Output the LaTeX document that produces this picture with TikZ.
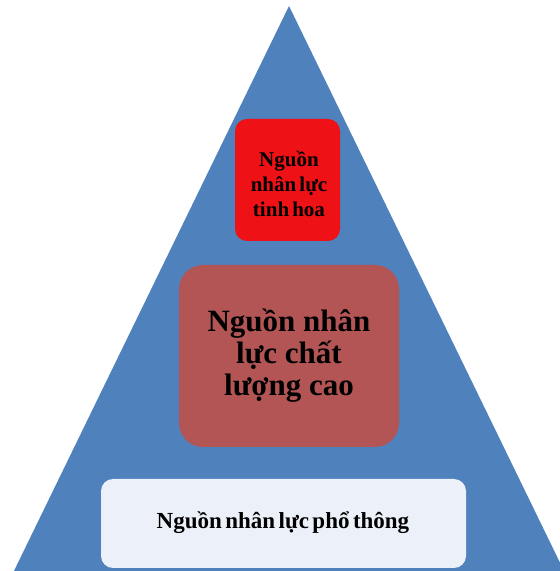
\documentclass[tikz,border=0pt]{standalone}
\usepackage{fontspec}
\setmainfont{Liberation Serif}
\definecolor{triblue}{RGB}{79,129,189}
\definecolor{topred}{RGB}{238,17,22}
\definecolor{midred}{RGB}{180,85,85}
\definecolor{lowbox}{RGB}{236,241,249}
\newcommand\tightspacing{\spaceskip=0.15em\relax}
\tikzset{
  box/.style={draw=none, align=center, inner sep=0pt, font=\bfseries},
}
\begin{document}
\begin{tikzpicture}[x=1pt,y=1pt]
\useasboundingbox (0,0) rectangle (560,571);
\begin{scope}
\clip (0,0) rectangle (560,571);
\fill[triblue] (289,565) -- (566,-4) -- (12,-4) -- cycle;
\end{scope}
% top box
\fill[topred, rounded corners=12pt] (235,330) rectangle (340,452);
\node[box, font=\bfseries\fontsize{21}{25}\selectfont\tightspacing] (top) at (289,387) {Nguồn\\nhân lực\\tinh hoa};
% middle box
\fill[midred, rounded corners=24pt] (179,124) rectangle (399,306);
\node[box, font=\bfseries\fontsize{31}{32}\selectfont] (mid) at (289,215) {Nguồn nhân\\lực chất\\lượng cao};
% bottom box
\fill[lowbox, rounded corners=12pt] (101,3) rectangle (466,92);
\node[box, font=\bfseries\fontsize{23}{24}\selectfont\tightspacing] (low) at (283,48) {Nguồn nhân lực phổ thông};
\end{tikzpicture}
\end{document}
